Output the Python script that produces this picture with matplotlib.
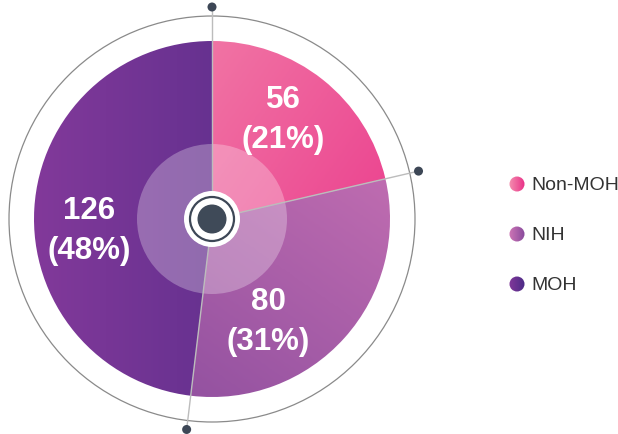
import numpy as np
import matplotlib
matplotlib.use("Agg")
import matplotlib.pyplot as plt
from matplotlib.patches import Wedge, Circle
from matplotlib.colors import LinearSegmentedColormap

# ---- data ----
categories = ["Non-MOH", "NIH", "MOH"]
values = [56, 80, 126]
pct_labels = ["21%", "31%", "48%"]
# gradient colour pairs (light -> dark) and gradient direction (deg)
grad_colors = [("#f490b0", "#e92f87"), ("#cf76b6", "#874a9c"), ("#82399a", "#4b2a86")]
grad_angles = [-35, 235, 0]

W, H = 618, 435
fig = plt.figure(figsize=(W / 100, H / 100), dpi=100)
ax = fig.add_axes([0, 0, 1, 1])
ax.set_xlim(0, W)
ax.set_ylim(H, 0)
ax.set_aspect("equal")
ax.axis("off")

cx, cy = 212, 220
R = 178
R_ring = 203
R_dot = 212
font = "Liberation Sans"


def gradient_fill(patch, c1, c2, angle, bbox, z):
    x0, x1, y0, y1 = bbox
    n = 200
    xs = np.linspace(0, 1, n)
    ys = np.linspace(0, 1, n)
    X, Y = np.meshgrid(xs, ys)
    a = np.deg2rad(angle)
    t = X * np.cos(a) + (1 - Y) * np.sin(a)
    t = (t - t.min()) / (t.max() - t.min())
    cmap = LinearSegmentedColormap.from_list("g", [c1, c2])
    im = ax.imshow(t, cmap=cmap, extent=(x0, x1, y1, y0), origin="upper",
                   zorder=z, interpolation="bilinear")
    ax.add_patch(patch)
    patch.set_visible(False)
    im.set_clip_path(patch)
    return im


total = sum(values)
start = -90.0
boundaries = [start]
label_pos = [(283, 120), (268, 322), (89, 231)]
for i, v in enumerate(values):
    sweep = 360.0 * v / total
    w = Wedge((cx, cy), R, start, start + sweep, facecolor="none", edgecolor="none")
    gradient_fill(w, grad_colors[i][0], grad_colors[i][1], grad_angles[i],
                  (cx - R, cx + R, cy - R, cy + R), 1)
    start += sweep
    boundaries.append(start)

# light inner overlay
ax.add_patch(Circle((cx, cy), 75, facecolor="white", alpha=0.28, edgecolor="none", zorder=3))

# outer ring
ax.add_patch(Circle((cx, cy), R_ring, facecolor="none", edgecolor="#8a8a8a", lw=0.9, zorder=2))

# separator lines + dots
for b in boundaries[:-1]:
    a = np.deg2rad(b)
    ex, ey = cx + R_dot * np.cos(a), cy + R_dot * np.sin(a)
    ax.plot([cx, ex], [cy, ey], color="#bcbcbc", lw=1.0, zorder=4)
    ax.add_patch(Circle((ex, ey), 4.5, facecolor="#3d4756", edgecolor="none", zorder=6))

# centre
ax.add_patch(Circle((cx, cy), 28, facecolor="white", edgecolor="none", zorder=5))
ax.add_patch(Circle((cx, cy), 22, facecolor="white", edgecolor="#3d4756", lw=1.6, zorder=6))
ax.add_patch(Circle((cx, cy), 14.5, facecolor="#3f4a58", edgecolor="none", zorder=7))

# labels
for i, v in enumerate(values):
    x, y = label_pos[i]
    ax.text(x, y, f"{v}\n({pct_labels[i]})", ha="center", va="center", color="white",
            fontsize=22.5, fontweight="bold", family=font, linespacing=1.4, zorder=8)

# legend
leg_y = [185, 235, 285]
for i, cat in enumerate(categories):
    c = Circle((517, leg_y[i]), 7.5, facecolor="none", edgecolor="none")
    gradient_fill(c, grad_colors[i][0], grad_colors[i][1], 0,
                  (509, 525, leg_y[i] - 8, leg_y[i] + 8), 5)
    ax.text(531, leg_y[i] + 1, cat, ha="left", va="center", color="#333333",
            fontsize=14, family=font, zorder=8)

fig.savefig("out.png", dpi=100)
